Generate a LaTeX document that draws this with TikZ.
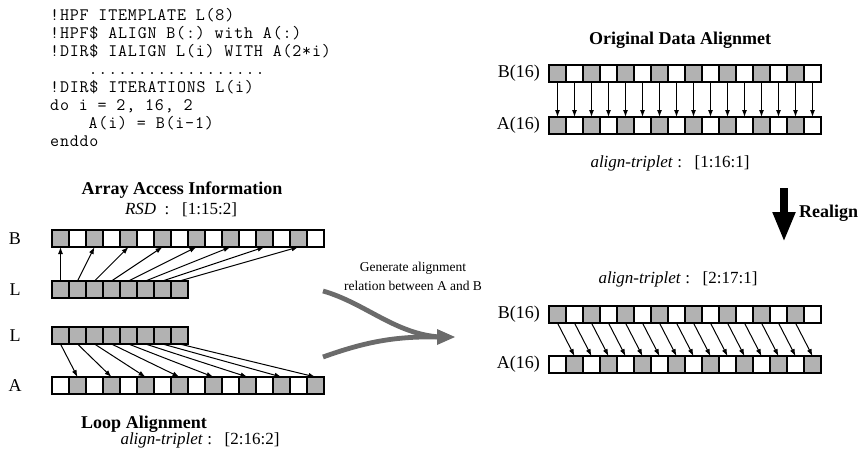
\documentclass[tikz,border=0pt]{standalone}
\usepackage{fontspec}
\setmainfont{Liberation Serif}
\setmonofont{Latin Modern Mono}[LetterSpace=4.6]
\usetikzlibrary{arrows.meta}
\definecolor{shade}{gray}{0.70}
\definecolor{brush}{gray}{0.42}
\tikzset{
 cell/.style={draw, line width=1.3pt, minimum width=17pt, minimum height=17pt, inner sep=0pt, outer sep=0pt, fill=white},
 shcell/.style={cell, fill=shade},
 rowbox/.style={draw, line width=2.4pt},
 arr/.style={line width=1pt, -{Latex[length=7pt,width=5pt]}},
 lbl/.style={font=\fontsize{18}{20}\selectfont, inner sep=0pt},
 ttl/.style={font=\fontsize{18}{20}\selectfont\bfseries, inner sep=0pt},
 info/.style={font=\fontsize{17}{20}\selectfont, inner sep=0pt},
 gen/.style={font=\fontsize{13.5}{19}\selectfont, inner sep=0pt, align=center},
 codeln/.style={font=\fontsize{17.5}{18}\selectfont\ttfamily, anchor=base west, inner sep=0pt},
 brushln/.style={draw=brush, line width=4.8pt},
}
\begin{document}
\begin{tikzpicture}[x=1pt,y=-1pt]
\useasboundingbox (0,0) rectangle (860,453);

% ---- code ----
\node[codeln] (c1) at (50,20) {!HPF ITEMPLATE L(8)};
\node[codeln] (c2) at (50,38) {!HPF\$ ALIGN B(:) with A(:)};
\node[codeln] (c3) at (50,56) {!DIR\$ IALIGN L(i) WITH A(2*i)};
\node[codeln] (c4) at (50,74) {\phantom{xxxx}..................};
\node[codeln] (c5) at (50,92) {!DIR\$ ITERATIONS L(i)};
\node[codeln] (c6) at (50,110) {do i = 2, 16, 2};
\node[codeln] (c7) at (50,128) {\phantom{xxxx}A(i) = B(i-1)};
\node[codeln] (c8) at (50,146) {enddo};

% ---- left titles ----
\node[ttl] (t1) at (182,190) {Array Access Information};
\node[info] (rsd) at (181,210) {\textit{RSD}\enspace:\enspace\ [1:15:2]};
\node[ttl] (t2) at (144,424) {Loop Alignment};
\node[info] (lat) at (200,440) {\textit{align-triplet}\ :\enspace\ [2:16:2]};

% ---- left labels ----
\node[lbl] (nB) at (15,239) {B};
\node[lbl] (nL1) at (15,289.5) {L};
\node[lbl] (nL2) at (15,335.5) {L};
\node[lbl] (nA) at (15,386) {A};

% ---- left arrays ----
\foreach \i in {1,...,16} {
  \ifodd\i
    \node[shcell] (lB\i) at ({52+17*(\i-0.5)},238.5) {};
    \node[cell] (lA\i) at ({52+17*(\i-0.5)},385.5) {};
  \else
    \node[cell] (lB\i) at ({52+17*(\i-0.5)},238.5) {};
    \node[shcell] (lA\i) at ({52+17*(\i-0.5)},385.5) {};
  \fi
}
\foreach \i in {1,...,8} {
  \node[shcell] (lL\i) at ({52+17*(\i-0.5)},289.5) {};
  \node[shcell] (mL\i) at ({52+17*(\i-0.5)},335.5) {};
}
\draw[rowbox] (lB1.north west) rectangle (lB16.south east);
\draw[rowbox] (lA1.north west) rectangle (lA16.south east);
\draw[rowbox] (lL1.north west) rectangle (lL8.south east);
\draw[rowbox] (mL1.north west) rectangle (mL8.south east);
\foreach \i in {1,...,8} {
  \pgfmathtruncatemacro\jo{2*\i-1}
  \pgfmathtruncatemacro\je{2*\i}
  \draw[arr] (lL\i.north) -- (lB\jo.south);
  \draw[arr] (mL\i.south) -- (lA\je.north);
}

% ---- generate arrow ----
\node[gen] (gtxt) at (413,276.5) {Generate alignment\\relation between A and B};
\coordinate (g1s) at (323,291);
\coordinate (g2s) at (323,357);
\coordinate (gm) at (440,337);
\draw[brushln] (g1s) .. controls (365,303) and (395,334) .. (gm);
\draw[brushln] (g2s) .. controls (365,342) and (395,336) .. (gm);
\fill[brush] (437,329) -- (455,337) -- (437,345) -- cycle;

% ---- right top ----
\node[ttl] (t3) at (680,40) {Original Data Alignmet};
\node[lbl, anchor=east] (rB1) at (540,73.5) {B(16)};
\node[lbl, anchor=east] (rA1) at (540,125.5) {A(16)};
\foreach \i in {1,...,16} {
  \ifodd\i
    \node[shcell] (tb\i) at ({549+17*(\i-0.5)},73.5) {};
    \node[shcell] (ta\i) at ({549+17*(\i-0.5)},125.5) {};
  \else
    \node[cell] (tb\i) at ({549+17*(\i-0.5)},73.5) {};
    \node[cell] (ta\i) at ({549+17*(\i-0.5)},125.5) {};
  \fi
}
\draw[rowbox] (tb1.north west) rectangle (tb16.south east);
\draw[rowbox] (ta1.north west) rectangle (ta16.south east);
\foreach \i in {1,...,16} {
  \draw[arr] (tb\i.south) -- (ta\i.north);
}
\node[info] (rat1) at (670,163) {\textit{align-triplet}\ :\enspace\ [1:16:1]};

% ---- realign ----
\coordinate (ra) at (784,188);
\coordinate (rb) at (784,242);
\draw[line width=8pt, -{Triangle[length=30pt,width=21pt]}] (ra) -- (rb);
\node[ttl, anchor=west] (real) at (799,213) {Realign};

% ---- right bottom ----
\node[info] (rat2) at (678,279) {\textit{align-triplet}\ :\enspace\ [2:17:1]};
\node[lbl, anchor=east] (rB2) at (540,314.5) {B(16)};
\node[lbl, anchor=east] (rA2) at (540,364.5) {A(16)};
\foreach \i in {1,...,16} {
  \ifodd\i
    \node[shcell] (bb\i) at ({549+17*(\i-0.5)},314.5) {};
    \node[cell] (ba\i) at ({549+17*(\i-0.5)},364.5) {};
  \else
    \node[cell] (bb\i) at ({549+17*(\i-0.5)},314.5) {};
    \node[shcell] (ba\i) at ({549+17*(\i-0.5)},364.5) {};
  \fi
}
\draw[rowbox] (bb1.north west) rectangle (bb16.south east);
\draw[rowbox] (ba1.north west) rectangle (ba16.south east);
\foreach \i in {1,...,15} {
  \pgfmathtruncatemacro\j{\i+1}
  \draw[arr] (bb\i.south) -- (ba\j.north);
}
\end{tikzpicture}
\end{document}
